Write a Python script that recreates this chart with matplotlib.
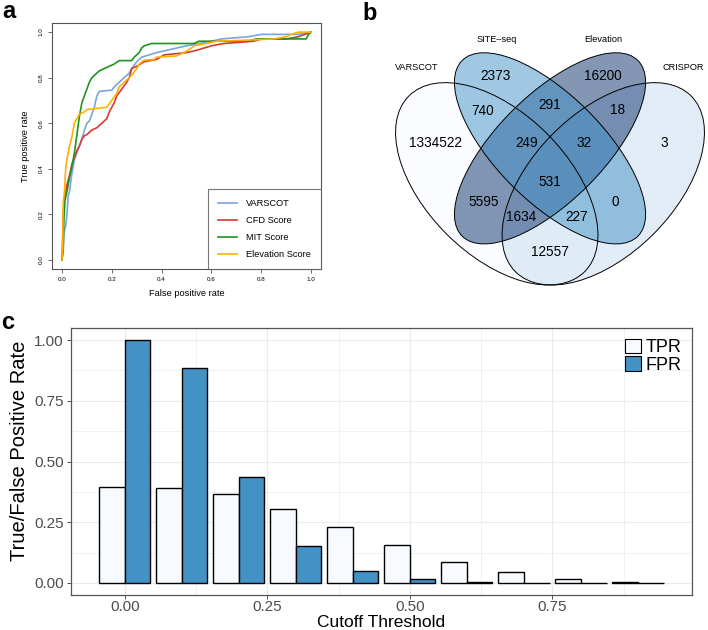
import matplotlib
matplotlib.use("Agg")
import matplotlib.pyplot as plt
from matplotlib.patches import Ellipse, Patch
import numpy as np

plt.rcParams['font.family'] = ['Liberation Sans', 'DejaVu Sans']

# ---- panel a: ROC curves (fpr, tpr) ----
varscot_roc = [(0, 0), (0.005, 0.05), (0.008, 0.12), (0.015, 0.15), (0.02, 0.2), (0.025, 0.28),
               (0.03, 0.3), (0.04, 0.38), (0.05, 0.44), (0.06, 0.47), (0.07, 0.5), (0.08, 0.53),
               (0.09, 0.57), (0.1, 0.6), (0.11, 0.61), (0.12, 0.64), (0.13, 0.67), (0.14, 0.72),
               (0.15, 0.74), (0.2, 0.745), (0.21, 0.76), (0.23, 0.78), (0.25, 0.8), (0.27, 0.82),
               (0.28, 0.84), (0.3, 0.87), (0.32, 0.89), (0.35, 0.9), (0.38, 0.91), (0.42, 0.92),
               (0.46, 0.93), (0.5, 0.94), (0.55, 0.95), (0.6, 0.96), (0.64, 0.97), (0.75, 0.98),
               (0.8, 0.99), (0.95, 0.99), (1.0, 1.0)]
cfd_roc = [(0, 0), (0.003, 0.1), (0.005, 0.2), (0.01, 0.27), (0.015, 0.3), (0.02, 0.33), (0.03, 0.37),
           (0.04, 0.42), (0.05, 0.45), (0.06, 0.48), (0.07, 0.5), (0.08, 0.53), (0.09, 0.545),
           (0.1, 0.55), (0.12, 0.57), (0.14, 0.58), (0.16, 0.6), (0.18, 0.62), (0.19, 0.65),
           (0.2, 0.67), (0.21, 0.69), (0.22, 0.72), (0.24, 0.75), (0.26, 0.78), (0.27, 0.8),
           (0.28, 0.84), (0.3, 0.85), (0.33, 0.87), (0.38, 0.88), (0.41, 0.9), (0.5, 0.91),
           (0.54, 0.92), (0.6, 0.94), (0.65, 0.95), (0.77, 0.96), (0.8, 0.97), (0.9, 0.97),
           (0.95, 0.98), (1.0, 1.0)]
mit_roc = [(0, 0), (0.005, 0.04), (0.008, 0.18), (0.012, 0.26), (0.02, 0.3), (0.03, 0.36),
           (0.04, 0.41), (0.05, 0.47), (0.06, 0.55), (0.07, 0.63), (0.08, 0.69), (0.09, 0.72),
           (0.1, 0.75), (0.11, 0.78), (0.12, 0.8), (0.13, 0.81), (0.15, 0.83), (0.17, 0.84),
           (0.19, 0.85), (0.21, 0.86), (0.23, 0.875), (0.28, 0.875), (0.29, 0.89), (0.31, 0.91),
           (0.32, 0.93), (0.33, 0.94), (0.36, 0.95), (0.53, 0.95), (0.55, 0.96), (0.75, 0.96),
           (0.78, 0.97), (0.98, 0.97), (0.99, 0.99), (1.0, 1.0)]
elev_roc = [(0, 0), (0.003, 0.05), (0.005, 0.25), (0.01, 0.3), (0.015, 0.4), (0.02, 0.44),
            (0.03, 0.5), (0.04, 0.54), (0.05, 0.6), (0.06, 0.62), (0.07, 0.64), (0.09, 0.65),
            (0.1, 0.66), (0.18, 0.67), (0.2, 0.7), (0.22, 0.73), (0.23, 0.76), (0.25, 0.78),
            (0.28, 0.81), (0.3, 0.84), (0.31, 0.86), (0.33, 0.877), (0.37, 0.88), (0.38, 0.89),
            (0.46, 0.895), (0.49, 0.91), (0.52, 0.93), (0.53, 0.94), (0.58, 0.95), (0.62, 0.96),
            (0.75, 0.965), (0.85, 0.97), (0.9, 0.98), (0.92, 0.99), (0.95, 1.0), (1.0, 1.0)]
roc_names = ['VARSCOT', 'CFD Score', 'MIT Score', 'Elevation Score']
roc_colors = ['#7BA3E3', '#D63A32', '#1F941F', '#FFB000']

# ---- panel b: venn ----
set_names = ['VARSCOT', 'SITE\u2013seq', 'Elevation', 'CRISPOR']
region_counts = [1334522, 2373, 16200, 3, 740, 291, 18, 249, 32, 531, 5595, 0, 1634, 227, 12557]

# ---- panel c: rates by cutoff ----
cutoffs = [0.0, 0.1, 0.2, 0.3, 0.4, 0.5, 0.6, 0.7, 0.8, 0.9]
tpr_vals = [0.393, 0.39, 0.365, 0.304, 0.232, 0.157, 0.084, 0.046, 0.015, 0.003]
fpr_vals = [1.0, 0.885, 0.436, 0.153, 0.047, 0.015, 0.004, 0.001, 0.0005, 0.0002]

W, H = 708, 630
fig = plt.figure(figsize=(W / 100, H / 100), dpi=100)


def rect(l, t, r, b):
    return [l / W, 1 - b / H, (r - l) / W, (b - t) / H]


# ===== a =====
ax = fig.add_axes(rect(52, 23, 321, 269))
for data, name, col in zip([varscot_roc, cfd_roc, mit_roc, elev_roc], roc_names, roc_colors):
    fx, ty = zip(*data)
    ax.plot(fx, ty, color=col, lw=1.2, label=name)
ax.set_xlim(-0.04, 1.04)
ax.set_ylim(-0.04, 1.04)
ticks = [0, 0.2, 0.4, 0.6, 0.8, 1.0]
tlabs = ['0.0', '0.2', '0.4', '0.6', '0.8', '1.0']
ax.set_xticks(ticks)
ax.set_xticklabels(tlabs, fontsize=4.5)
ax.set_yticks(ticks)
ax.set_yticklabels(tlabs, fontsize=4.5, rotation=90, va='center')
ax.tick_params(length=3, width=0.6, color='#555555', pad=3)
for s in ax.spines.values():
    s.set_color('#555555')
    s.set_linewidth(0.8)
ax.set_xlabel('False positive rate', fontsize=6.7, labelpad=5)
ax.set_ylabel('True positive rate', fontsize=6.7, labelpad=6)
leg = ax.legend(loc='lower right', fontsize=6.7, frameon=True, fancybox=False,
                edgecolor='#555555', borderaxespad=0, borderpad=1.1, handlelength=2.0,
                handletextpad=1.0, labelspacing=0.85)
leg.get_frame().set_linewidth(0.8)

# ===== b =====
axb = fig.add_axes(rect(380, 15, 708, 295))
axb.set_xlim(0.0211, 0.945)
axb.set_ylim(0.1568, 0.9456)
axb.axis('off')
ell_geo = [((0.35, 0.47), 0.7, 0.4, -45), ((0.5, 0.57), 0.7, 0.3, -45),
           ((0.5, 0.57), 0.7, 0.3, 45), ((0.65, 0.47), 0.7, 0.4, 45)]
ell_fill = ['#F7FBFF', '#4292C6', '#08306B', '#C6DBEF']
for i in [0, 3, 2, 1]:
    c, w, h, ang = ell_geo[i]
    axb.add_patch(Ellipse(c, w, h, angle=ang, facecolor=ell_fill[i], alpha=0.5, lw=0))
for c, w, h, ang in ell_geo:
    axb.add_patch(Ellipse(c, w, h, angle=ang, facecolor='none', edgecolor='black', lw=0.7))
name_pos = [(0.125, 0.797), (0.35, 0.877), (0.65, 0.877), (0.875, 0.797)]
for (x, y), n in zip(name_pos, set_names):
    axb.text(x, y, n, fontsize=6.6, ha='center', va='center')
count_pos = [(0.178, 0.585), (0.348, 0.773), (0.65, 0.775), (0.822, 0.585), (0.31, 0.675),
             (0.5, 0.692), (0.69, 0.677), (0.435, 0.584), (0.595, 0.584), (0.5, 0.476),
             (0.312, 0.42), (0.684, 0.42), (0.42, 0.377), (0.576, 0.377), (0.5, 0.279)]
for (x, y), v in zip(count_pos, region_counts):
    axb.text(x, y, str(v), fontsize=9.8, ha='center', va='center')

# ===== c =====
axc = fig.add_axes(rect(70.8, 328, 691.8, 595))
cx = np.array(cutoffs)
bw = 0.045
axc.bar(cx - bw / 2, tpr_vals, width=bw, color='#F7FBFF', edgecolor='black', lw=1.0, label='TPR')
axc.bar(cx + bw / 2, fpr_vals, width=bw, color='#4292C6', edgecolor='black', lw=1.0, label='FPR')
axc.set_xlim(-0.0945, 0.9945)
axc.set_ylim(-0.05, 1.05)
axc.set_xticks([0, 0.25, 0.5, 0.75])
axc.set_xticklabels(['0.00', '0.25', '0.50', '0.75'])
axc.set_yticks([0, 0.25, 0.5, 0.75, 1.0])
axc.set_yticklabels(['0.00', '0.25', '0.50', '0.75', '1.00'])
axc.set_xticks([0.125, 0.375, 0.625, 0.875], minor=True)
axc.set_yticks([0.125, 0.375, 0.625, 0.875], minor=True)
axc.set_axisbelow(True)
axc.grid(which='major', color='#EBEBEB', lw=0.8)
axc.grid(which='minor', color='#EBEBEB', lw=0.5)
axc.tick_params(which='major', length=3, width=0.6, color='#333333', labelsize=11,
                labelcolor='#4D4D4D', pad=0.5)
axc.tick_params(axis='y', which='major', pad=2)
axc.tick_params(which='minor', length=0)
for s in axc.spines.values():
    s.set_color('#555555')
    s.set_linewidth(0.9)
axc.set_xlabel('Cutoff Threshold', fontsize=12.5)
axc.xaxis.set_label_coords(0.5, -0.131)
axc.xaxis.label.set_va('bottom')
axc.set_ylabel('True/False Positive Rate', fontsize=14.5)
axc.yaxis.set_label_coords(-0.082, 0.539)
axc.yaxis.label.set_va('center')
axc.legend(handles=[Patch(facecolor='#F7FBFF', edgecolor='black', lw=0.8, label='TPR'),
                    Patch(facecolor='#4292C6', edgecolor='black', lw=0.8, label='FPR')],
           loc='upper left', bbox_to_anchor=(625 / W, 1 - 339 / H), bbox_transform=fig.transFigure,
           frameon=False, fontsize=13, handlelength=0.9, handleheight=0.85,
           handletextpad=0.25, labelspacing=0.0, borderpad=0, borderaxespad=0)

# panel letters
fig.text(2 / W, 1 - 18 / H, 'a', fontsize=17, fontweight='bold')
fig.text(362 / W, 1 - 20 / H, 'b', fontsize=17, fontweight='bold')
fig.text(1 / W, 1 - 329 / H, 'c', fontsize=17, fontweight='bold')

fig.savefig('out.png', dpi=100)
